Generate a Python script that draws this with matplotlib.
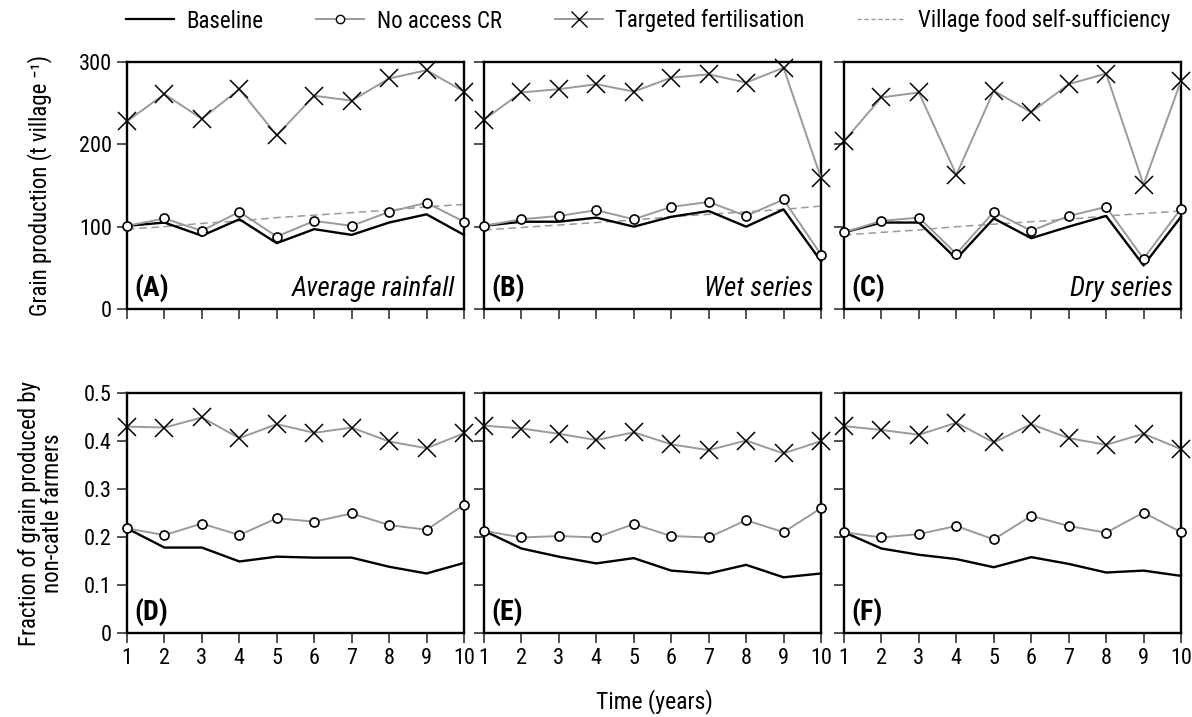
import matplotlib
matplotlib.use("Agg")
import matplotlib.pyplot as plt
from matplotlib.lines import Line2D

FONTS = ["Roboto Condensed", "Archivo Narrow", "Liberation Sans Narrow", "DejaVu Sans"]
plt.rcParams["font.family"] = FONTS

# --------------------------------------------------
# Data
# --------------------------------------------------
years = [1, 2, 3, 4, 5, 6, 7, 8, 9, 10]

# grain production (t village-1)
prod_baseline_avg = [101, 105, 89, 109, 80, 97, 90, 105, 115, 90]
prod_nocr_avg = [101, 110, 95, 118, 88, 107, 101, 118, 129, 106]
prod_target_avg = [228, 261, 231, 267, 211, 259, 253, 280, 290, 264]
prod_selfsuf_avg = [97, 100, 104, 107, 111, 114, 117, 120, 124, 127]

prod_baseline_wet = [101, 106, 106, 111, 100, 112, 119, 100, 121, 58]
prod_nocr_wet = [101, 109, 113, 120, 109, 124, 130, 113, 133, 66]
prod_target_wet = [230, 263, 267, 273, 264, 281, 285, 275, 293, 159]
prod_selfsuf_wet = [96, 99, 102, 105, 108, 112, 115, 118, 121, 125]

prod_baseline_dry = [93, 105, 105, 61, 110, 86, 100, 113, 53, 112]
prod_nocr_dry = [93, 107, 111, 67, 118, 95, 113, 124, 61, 122]
prod_target_dry = [204, 257, 263, 163, 265, 239, 273, 286, 151, 277]
prod_selfsuf_dry = [90, 93, 96, 100, 103, 106, 109, 113, 116, 119]

# fraction of grain produced by non-cattle farmers
frac_baseline_avg = [0.218, 0.178, 0.178, 0.149, 0.159, 0.157, 0.157, 0.138, 0.124, 0.146]
frac_nocr_avg = [0.218, 0.204, 0.228, 0.204, 0.239, 0.232, 0.249, 0.225, 0.215, 0.267]
frac_target_avg = [0.430, 0.428, 0.449, 0.406, 0.435, 0.417, 0.428, 0.399, 0.385, 0.416]

frac_baseline_wet = [0.213, 0.176, 0.159, 0.145, 0.156, 0.130, 0.124, 0.142, 0.116, 0.124]
frac_nocr_wet = [0.213, 0.199, 0.202, 0.199, 0.227, 0.202, 0.199, 0.235, 0.210, 0.260]
frac_target_wet = [0.432, 0.426, 0.415, 0.402, 0.418, 0.393, 0.381, 0.401, 0.374, 0.400]

frac_baseline_dry = [0.210, 0.176, 0.163, 0.154, 0.137, 0.158, 0.144, 0.126, 0.130, 0.119]
frac_nocr_dry = [0.210, 0.199, 0.206, 0.223, 0.195, 0.244, 0.223, 0.209, 0.251, 0.210]
frac_target_dry = [0.431, 0.423, 0.413, 0.438, 0.397, 0.435, 0.406, 0.392, 0.415, 0.383]

panel_letters = ["(A)", "(B)", "(C)", "(D)", "(E)", "(F)"]
scenario_names = ["Average rainfall", "Wet series", "Dry series"]
legend_labels = ["Baseline", "No access CR", "Targeted fertilisation",
                 "Village food self-sufficiency"]
prod_yticks = [0, 100, 200, 300]
frac_yticks = [0, 0.1, 0.2, 0.3, 0.4, 0.5]
frac_yticklabels = ["0", "0.1", "0.2", "0.3", "0.4", "0.5"]

# --------------------------------------------------
# Styles
# --------------------------------------------------
GRAY = "#9a9a9a"
base_kw = dict(color="black", lw=1.7, clip_on=False, zorder=3)
nocr_kw = dict(color=GRAY, lw=1.4, marker="o", ms=6.5, mfc="white",
               mec="black", mew=1.2, clip_on=False, zorder=4)
targ_kw = dict(color=GRAY, lw=1.4, marker="x", ms=13, mec="black",
               mew=1.1, clip_on=False, zorder=4)
self_kw = dict(color=GRAY, lw=1.1, ls=(0, (5, 3)), clip_on=False, zorder=2)

FS = 16      # tick labels
FS_LAB = 16.5  # axis labels / legend

fig = plt.figure(figsize=(11.92, 7.17), dpi=100)
W, H = 1192.0, 717.0

lefts = [127, 484, 844]
width = 337
top_row = (62, 309)
bot_row = (393, 633)

prod_data = [
    (prod_baseline_avg, prod_nocr_avg, prod_target_avg, prod_selfsuf_avg),
    (prod_baseline_wet, prod_nocr_wet, prod_target_wet, prod_selfsuf_wet),
    (prod_baseline_dry, prod_nocr_dry, prod_target_dry, prod_selfsuf_dry),
]
frac_data = [
    (frac_baseline_avg, frac_nocr_avg, frac_target_avg),
    (frac_baseline_wet, frac_nocr_wet, frac_target_wet),
    (frac_baseline_dry, frac_nocr_dry, frac_target_dry),
]


def make_ax(left, row):
    t, b = row
    return fig.add_axes([left / W, 1 - b / H, width / W, (b - t) / H])


def style_ax(ax):
    for s in ax.spines.values():
        s.set_linewidth(1.7)
    ax.tick_params(direction="out", length=7, width=1.2, labelsize=FS,
                   pad=4, color="#333333")
    ax.set_xlim(1, 10)
    ax.set_xticks(years)


for i in range(3):
    # top row: grain production
    ax = make_ax(lefts[i], top_row)
    base, nocr, targ, selfsuf = prod_data[i]
    ax.plot(years, selfsuf, **self_kw)
    ax.plot(years, base, **base_kw)
    ax.plot(years, nocr, **nocr_kw)
    ax.plot(years, targ, **targ_kw)
    style_ax(ax)
    ax.set_ylim(0, 300)
    ax.set_yticks(prod_yticks)
    ax.set_xticklabels([])
    if i != 0:
        ax.set_yticklabels([])
    ax.text(0.022, 0.03, panel_letters[i], transform=ax.transAxes,
            fontsize=20, fontweight="bold", ha="left", va="bottom")
    ax.text(0.975, 0.03, scenario_names[i], transform=ax.transAxes,
            fontsize=19.5, style="italic", ha="right", va="bottom")

    # bottom row: fraction by non-cattle farmers
    ax = make_ax(lefts[i], bot_row)
    base, nocr, targ = frac_data[i]
    ax.plot(years, base, **base_kw)
    ax.plot(years, nocr, **nocr_kw)
    ax.plot(years, targ, **targ_kw)
    style_ax(ax)
    ax.set_ylim(0, 0.5)
    ax.set_yticks(frac_yticks)
    if i == 0:
        ax.set_yticklabels(frac_yticklabels)
    else:
        ax.set_yticklabels([])
    ax.text(0.022, 0.03, panel_letters[i + 3], transform=ax.transAxes,
            fontsize=20, fontweight="bold", ha="left", va="bottom")

# axis labels
fig.text(40 / W, 1 - 186 / H, "Grain production (t village \u207b\u00b9)",
         rotation=90, fontsize=FS_LAB, ha="center", va="center")
fig.text(41 / W, 1 - 513 / H, "Fraction of grain produced by\nnon-catle farmers",
         rotation=90, fontsize=FS_LAB, ha="center", va="center",
         multialignment="center", linespacing=1.05)
fig.text(654 / W, 1 - 702 / H, "Time (years)", fontsize=17, ha="center",
         va="center")

# Legend
handles = [
    Line2D([], [], color="black", lw=1.6),
    Line2D([], [], color=GRAY, lw=1.4, marker="o", ms=6, mfc="white",
           mec="black", mew=1.0),
    Line2D([], [], color=GRAY, lw=1.4, marker="x", ms=12, mec="black",
           mew=1.0),
    Line2D([], [], color=GRAY, lw=1.0, ls=(0, (3, 2))),
]
fig.legend(handles, legend_labels, loc="center", ncol=4, frameon=False,
           bbox_to_anchor=(648 / W, 1 - 21 / H), fontsize=FS_LAB,
           handlelength=2.1, handletextpad=0.55, columnspacing=2.3)

fig.savefig("out.png", dpi=100)
